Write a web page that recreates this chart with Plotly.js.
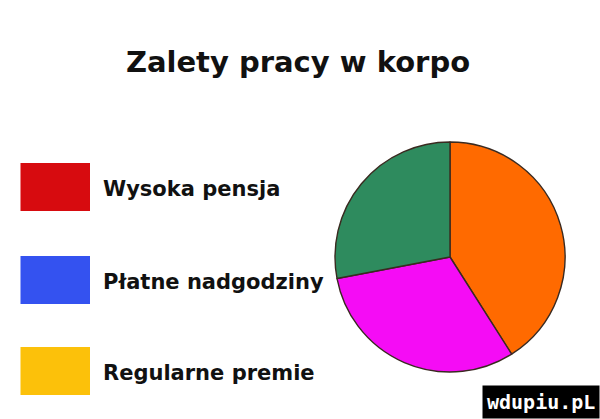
<!DOCTYPE html>
<html>
<head>
<meta charset="utf-8">
<script src="https://cdn.plot.ly/plotly-3.0.1.min.js"></script>
<style>html,body{margin:0;padding:0;background:#fff;}#chart{width:600px;height:419px;}</style>
</head>
<body>
<div id="chart"></div>
<script>
const titleText = "Zalety pracy w korpo";
const labels = ["Wysoka pensja", "Płatne nadgodziny", "Regularne premie"];
const values = [41, 31, 28];
const sliceColors = ["#FF6A00", "#F50CF5", "#2E8B5E"];
const legendColors = ["#D70B0F", "#3452F0", "#FCC10A"];
const watermark = "wdupiu.pL";

const legendY = [187, 280, 371];   // px from top (layout positions)
const H = 419, W = 600;

const shapes = legendColors.map((c, i) => ({
  type: "rect", xref: "paper", yref: "paper",
  x0: 20.5 / W, x1: 90 / W,
  y0: 1 - (legendY[i] - 24) / H, y1: 1 - (legendY[i] + 24) / H,
  fillcolor: c, line: {width: 0}
}));

const annotations = labels.map((t, i) => ({
  text: "<b>" + t + "</b>", xref: "paper", yref: "paper",
  x: 101 / W, y: 1 - (legendY[i] + 2) / H, xanchor: "left", yanchor: "middle",
  showarrow: false, font: {family: "DejaVu Sans, sans-serif", size: 21, color: "#111"}
}));
annotations.push({
  text: "<b>" + watermark + "</b>", xref: "paper", yref: "paper", x: 1, y: 0,
  xanchor: "right", yanchor: "bottom", showarrow: false,
  bgcolor: "#000", borderpad: 4,
  font: {family: "DejaVu Sans Mono, monospace", size: 20, color: "#fff"}
});

const data = [{
  type: "pie", labels: labels, values: values, sort: false,
  direction: "clockwise", rotation: 0,
  marker: {colors: sliceColors, line: {color: "#3a2a20", width: 1.4}},
  textinfo: "none", hoverinfo: "label+percent", showlegend: false,
  domain: {x: [335 / W, 565 / W], y: [1 - 372 / H, 1 - 142 / H]}
}];

const layout = {
  width: W, height: H, margin: {l: 0, r: 0, t: 0, b: 0},
  paper_bgcolor: "#fff", plot_bgcolor: "#fff",
  title: {text: "<b>" + titleText + "</b>", x: 298 / W, xanchor: "center",
    y: 1 - 62 / H, yanchor: "middle", yref: "paper",
    font: {family: "DejaVu Sans, sans-serif", size: 29, color: "#111"}},
  shapes: shapes, annotations: annotations, showlegend: false
};
Plotly.newPlot("chart", data, layout, {displayModeBar: false, staticPlot: true});
</script>
</body>
</html>
